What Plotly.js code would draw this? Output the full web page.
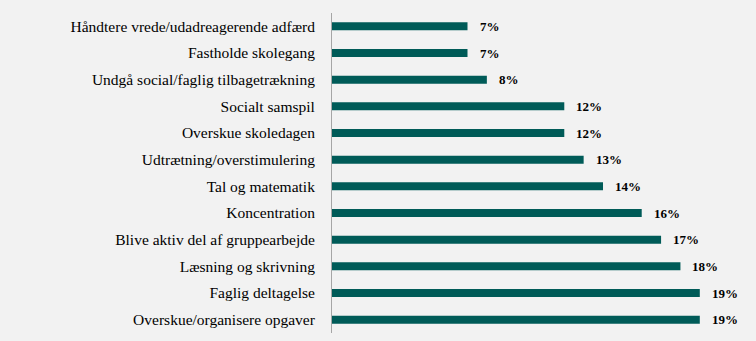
<!DOCTYPE html>
<html><head><meta charset="utf-8">
<script src="https://cdn.plot.ly/plotly-3.0.1.min.js"></script>
<style>html,body{margin:0;padding:0;background:#f2f2f2;}#chart{width:756px;height:341px;}</style>
</head><body><div id="chart"></div>
<script>
var categories = [
  "Håndtere vrede/udadreagerende adfærd",
  "Fastholde skolegang",
  "Undgå social/faglig tilbagetrækning",
  "Socialt samspil",
  "Overskue skoledagen",
  "Udtrætning/overstimulering",
  "Tal og matematik",
  "Koncentration",
  "Blive aktiv del af gruppearbejde",
  "Læsning og skrivning",
  "Faglig deltagelse",
  "Overskue/organisere opgaver"
];
var values = [7, 7, 8, 12, 12, 13, 14, 16, 17, 18, 19, 19];
var valueLabels = values.map(function(v){ return "<b>" + v + "%</b>"; });

var trace = {
  type: "bar",
  orientation: "h",
  y: categories,
  x: values,
  marker: {color: "#005b58"},
  hoverinfo: "none"
};
var annotations = values.map(function(v, i){
  return {x: v, y: categories[i], xref: "x", yref: "y", text: valueLabels[i],
    showarrow: false, xanchor: "left", xshift: 10, yshift: 0,
    font: {family: "Liberation Serif", size: 13, color: "#000"}};
});
var layout = {
  width: 756, height: 341,
  margin: {l: 332, r: 2, t: 13, b: 8},
  paper_bgcolor: "#f2f2f2", plot_bgcolor: "#f2f2f2",
  bargap: 0.7,
  showlegend: false,
  xaxis: {range: [0, 21.8], visible: false, fixedrange: true},
  yaxis: {autorange: "reversed", showline: true, linecolor: "#a6a6a6", linewidth: 1,
    ticks: "", ticklabelstandoff: 13, showgrid: false, zeroline: false,
    tickfont: {family: "Liberation Serif", size: 15.5, color: "#000"}},
  annotations: annotations,
  font: {family: "Liberation Serif"}
};
Plotly.newPlot("chart", [trace], layout, {displayModeBar: false, staticPlot: true});
</script></body></html>
